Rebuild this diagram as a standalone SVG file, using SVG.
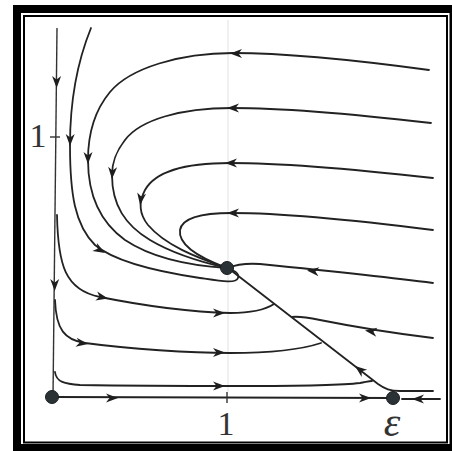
<svg xmlns="http://www.w3.org/2000/svg" xmlns:xlink="http://www.w3.org/1999/xlink" width="452" height="451" viewBox="0 0 452 451">
<style>
.traj{fill:none;stroke:#222;stroke-width:1.8;stroke-linecap:round;stroke-linejoin:round}
.axis{fill:none;stroke:#333;stroke-width:1.4}
.grid{fill:none;stroke:#e2e2e2;stroke-width:1}
.pt{fill:#2a3236;stroke:#1a1f22;stroke-width:1}
.ah{fill:#1e1e1e}
.lbl{font-family:"Liberation Serif","Times New Roman",serif;fill:#333}
</style>
<defs>
<path id="ah" d="M0,0 L-12,-4.5 L-8.5,0 L-12,4.5 Z"/>
</defs>
<g id="frame">
<rect x="13" y="5" width="450" height="450" fill="#000"/>
<rect x="21" y="13" width="428.5" height="431" fill="#fff"/>
<rect x="24" y="16" width="423" height="426.5" fill="none" stroke="#000" stroke-width="2"/>
</g>
<g id="grid">
<line class="grid" x1="228" y1="20" x2="228" y2="392"/>
</g>
<g id="axes">
<path class="axis" d="M57,28 L53,397"/>
<path class="axis" d="M50,137 L60,137"/>
<path class="traj" d="M52,397 L393,398"/>
<path class="traj" d="M402,399 L440,399"/>
<path class="axis" d="M227,392 L227,403"/>
</g>
<g id="connectors">
<path class="traj" d="M429,70 C370,62 290,53 233,53 C180,53 130,68 110,92 C95,110 88,135 88,160 C88,195 100,222 125,240 C155,260 195,266 227,268"/>
<path class="traj" d="M431,123 C370,116 290,108 232,108 C180,108 140,120 125,140 C115,153 112,163 112,175 C112,205 125,225 150,240 C175,255 205,263 227,268"/>
<path class="traj" d="M433,178 C370,171 290,163 230,163 C185,163 155,172 145,190 C138,203 140,215 148,225 C165,245 195,257 227,268"/>
<path class="traj" d="M433,230 C370,222 290,213 232,213 C200,213 182,218 180,230 C178,245 200,258 227,268"/>
<path class="traj" d="M91,28 C78,60 70,100 70,145 C70,195 75,225 95,245 C115,262 160,272 200,278 C220,281 236,284 238,278 C240,273 233,270 228,268"/>
<path class="traj" d="M57,215 C58,265 65,290 100,297 C140,305 190,312 230,313 C250,313 265,310 274,304"/>
<path class="traj" d="M55,300 C56,330 65,340 85,343 C130,349 190,353 230,353 C270,353 300,350 321,343"/>
<path class="traj" d="M55,372 C56,382 65,384 80,385 C140,386 200,386 240,386 C300,386 345,385 360,383 C366,382 369,381 372,381"/>
<path class="traj" d="M433,391 L400,391 C390,391 385,389 378,384 L228,268"/>
<path class="traj" d="M433,283 C380,276 300,268 260,264 C245,263 235,265 228,268"/>
<path class="traj" d="M433,338 C400,334 350,326 320,320 C305,317 298,316 292,317"/>
</g>
<g id="arrows" class="ah">
<use xlink:href="#ah" transform="translate(230,53.5) rotate(180)"/>
<use xlink:href="#ah" transform="translate(227,108) rotate(180)"/>
<use xlink:href="#ah" transform="translate(225,163) rotate(180)"/>
<use xlink:href="#ah" transform="translate(227,213) rotate(180)"/>
<use xlink:href="#ah" transform="translate(307,270.5) rotate(186)"/>
<use xlink:href="#ah" transform="translate(365,330.5) rotate(188)"/>
<use xlink:href="#ah" transform="translate(355,366) rotate(218)"/>
<use xlink:href="#ah" transform="translate(88,164) rotate(90)"/>
<use xlink:href="#ah" transform="translate(70,146) rotate(91)"/>
<use xlink:href="#ah" transform="translate(112,179) rotate(93)"/>
<use xlink:href="#ah" transform="translate(140,205) rotate(98)"/>
<use xlink:href="#ah" transform="translate(56.6,88) rotate(90)"/>
<use xlink:href="#ah" transform="translate(54.7,291) rotate(90)"/>
<use xlink:href="#ah" transform="translate(105,253) rotate(30)"/>
<use xlink:href="#ah" transform="translate(108,298.5) rotate(12)"/>
<use xlink:href="#ah" transform="translate(225,313) rotate(0)"/>
<use xlink:href="#ah" transform="translate(88,344) rotate(8)"/>
<use xlink:href="#ah" transform="translate(225,352.5) rotate(0)"/>
<use xlink:href="#ah" transform="translate(225,386) rotate(0)"/>
<use xlink:href="#ah" transform="translate(118,398) rotate(0)"/>
<use xlink:href="#ah" transform="translate(371,398) rotate(0)"/>
<use xlink:href="#ah" transform="translate(412,399) rotate(180)"/>
</g>
<g id="origin"><circle class="pt" cx="52" cy="397" r="6.5"/></g>
<g id="node-stable"><circle class="pt" cx="227" cy="268" r="6.5"/></g>
<g id="saddle-eps"><circle class="pt" cx="393" cy="398" r="6.5"/></g>
<g id="labels">
<text class="lbl" x="38" y="147" font-size="34" text-anchor="middle">1</text>
<text class="lbl" x="226" y="435" font-size="34" text-anchor="middle">1</text>
<text class="lbl" x="392" y="436" font-size="42" font-style="italic" text-anchor="middle">ε</text>
</g>
</svg>
